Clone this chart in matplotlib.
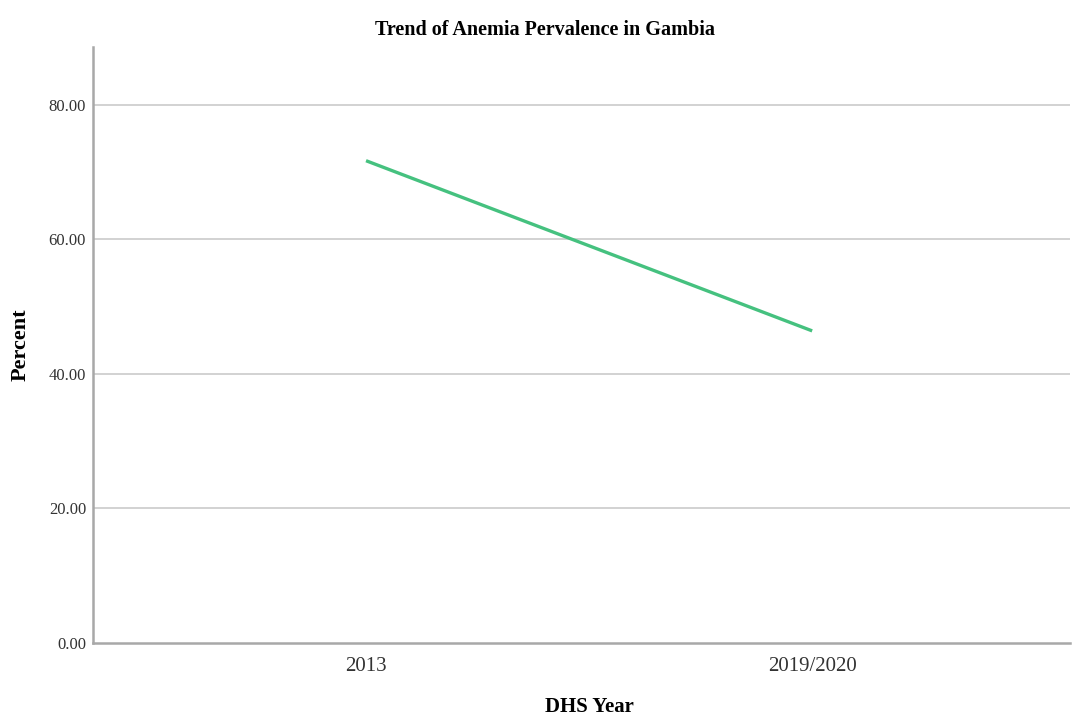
import matplotlib
matplotlib.use("Agg")
import matplotlib.pyplot as plt

# Datele graficului
ani = ["2013", "2019/2020"]
procent = [71.7, 46.4]
y_ticks = [0, 20, 40, 60, 80]

plt.rcParams["font.family"] = ["Liberation Serif", "DejaVu Serif"]

fig = plt.figure(figsize=(10.74, 7.18), dpi=100)
ax = fig.add_axes([0.0866, 0.1045, 0.9097, 0.830])

x = list(range(len(ani)))
ax.plot(x, procent, color="#45c17f", linewidth=2.4, solid_capstyle="butt")

ax.set_xlim(-0.612, 1.578)
ax.set_ylim(0, 88.6)
ax.set_xticks(x)
ax.set_xticklabels(ani, fontsize=15, color="#333333")
ax.set_yticks(y_ticks)
ax.set_yticklabels([f"{v:.2f}" for v in y_ticks], fontsize=12, color="#333333")
ax.tick_params(length=0)
ax.tick_params(axis="x", pad=10)
ax.tick_params(axis="y", pad=5)

for v in y_ticks[1:]:
    ax.axhline(v, color="#cfcfcf", linewidth=1.3, zorder=0)

for s in ["top", "right"]:
    ax.spines[s].set_visible(False)
for s in ["left", "bottom"]:
    ax.spines[s].set_color("#a8a8a8")
    ax.spines[s].set_linewidth(1.8)

ax.set_title("Trend of Anemia Pervalence in Gambia", fontsize=14.5, fontweight="bold",
             x=0.4627, pad=9)

# etichetele axelor, puse direct pe figura
fig.text(589 / 1074, 1 - 707 / 718, "DHS Year", fontsize=15, fontweight="bold",
         ha="center", va="center")
fig.text(21 / 1074, 1 - 345 / 718, "Percent", fontsize=16, fontweight="bold",
         ha="center", va="center", rotation=90)

fig.savefig("out.png", dpi=100)
